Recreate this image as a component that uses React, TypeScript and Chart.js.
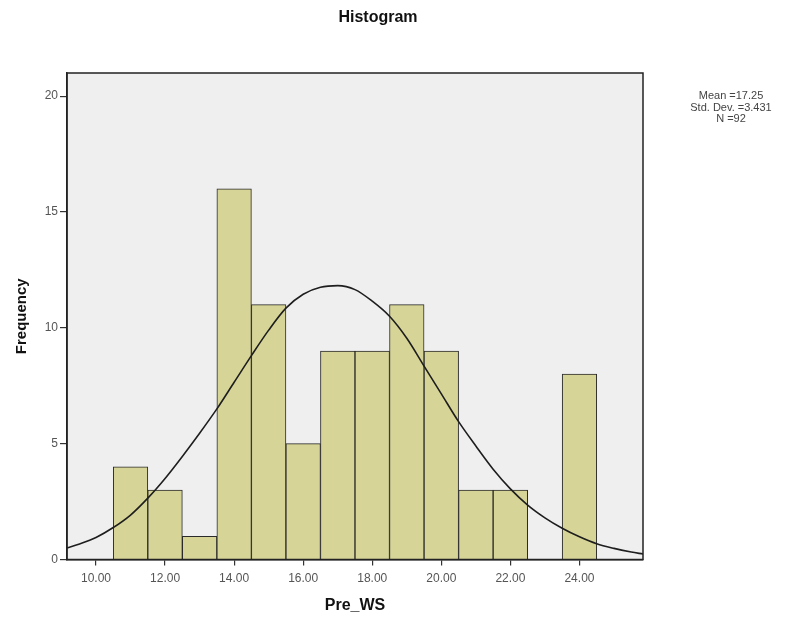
import React, { useEffect, useRef } from "react";
import { Chart, registerables } from "chart.js";

Chart.register(...registerables);

const chartTitle = "Histogram";
const xAxisTitle = "Pre_WS";
const yAxisTitle = "Frequency";
const statsLines = ["Mean =17.25", "Std. Dev. =3.431", "N =92"];

const binCenters = [11, 12, 13, 14, 15, 16, 17, 18, 19, 20, 21, 22, 24];
const frequencies = [4, 3, 1, 16, 11, 5, 9, 9, 11, 9, 3, 3, 8];

const curveX = [9.16, 9.5, 10, 10.5, 11, 11.5, 12, 12.5, 13, 13.5, 14, 14.5, 15, 15.5, 16, 16.5, 17, 17.5, 18, 18.5, 19, 19.5, 20, 20.5, 21, 21.5, 22, 22.5, 23, 23.5, 24, 24.5, 25, 25.5, 25.84];
const curveY = [0.5, 0.66, 0.95, 1.38, 1.92, 2.65, 3.5, 4.45, 5.45, 6.5, 7.65, 8.8, 9.9, 10.85, 11.45, 11.75, 11.82, 11.65, 11.15, 10.5, 9.55, 8.35, 7.15, 5.95, 4.9, 3.9, 3.05, 2.35, 1.8, 1.35, 0.98, 0.68, 0.48, 0.32, 0.24];

const xTicks = [10, 12, 14, 16, 18, 20, 22, 24];
const yTicks = [0, 5, 10, 15, 20];

const FONT = "'Liberation Sans', Arial, sans-serif";

const decorPlugin = {
  id: "decor",
  beforeDraw(chart: any) {
    const { ctx, chartArea } = chart;
    ctx.save();
    ctx.fillStyle = "#ffffff";
    ctx.fillRect(0, 0, chart.width, chart.height);
    ctx.fillStyle = "#efefef";
    ctx.fillRect(chartArea.left, chartArea.top, chartArea.right - chartArea.left, chartArea.bottom - chartArea.top);
    ctx.restore();
  },
  afterDraw(chart: any) {
    const { ctx, chartArea } = chart;
    ctx.save();
    ctx.strokeStyle = "#222222";
    ctx.lineWidth = 1.5;
    ctx.strokeRect(chartArea.left, chartArea.top, chartArea.right - chartArea.left, chartArea.bottom - chartArea.top);
    ctx.fillStyle = "#111111";
    ctx.font = `bold 16px ${FONT}`;
    ctx.textAlign = "center";
    ctx.textBaseline = "middle";
    ctx.fillText(chartTitle, 378, 18);
    ctx.fillStyle = "#444444";
    ctx.font = `11px ${FONT}`;
    statsLines.forEach((t, i) => ctx.fillText(t, 731, 96 + i * 11.5));
    ctx.restore();
  },
};

export default function App() {
  const ref = useRef<HTMLCanvasElement>(null);
  useEffect(() => {
    if (!ref.current) return;
    const chart = new Chart(ref.current, {
      type: "bar",
      data: {
        datasets: [
          {
            type: "line",
            data: curveX.map((x, i) => ({ x, y: curveY[i] })),
            borderColor: "#1e1e1e",
            borderWidth: 1.6,
            pointRadius: 0,
            cubicInterpolationMode: "monotone",
            fill: false,
            order: 0,
          } as any,
          {
            type: "bar",
            data: binCenters.map((x, i) => ({ x, y: frequencies[i] })),
            backgroundColor: "#d6d496",
            borderColor: "#2a2a2a",
            borderWidth: 1,
            barPercentage: 1,
            categoryPercentage: 1,
            order: 1,
          } as any,
        ],
      },
      options: {
        responsive: false,
        animation: false,
        layout: { padding: { top: 73, right: 164, bottom: 0, left: 0 } },
        plugins: { legend: { display: false }, tooltip: { enabled: false }, title: { display: false } },
        scales: {
          x: {
            type: "linear",
            min: 9.16,
            max: 25.84,
            offset: false,
            afterBuildTicks: (s: any) => { s.ticks = xTicks.map((v) => ({ value: v })); },
            afterFit: (s: any) => { s.height = 70.5; },
            grid: { display: true, offset: false, drawOnChartArea: false, drawTicks: true, tickLength: 6, color: "#333", lineWidth: 1.2 },
            border: { display: true, color: "#222", width: 1.5 },
            ticks: {
              color: "#555",
              font: { family: FONT, size: 12 },
              padding: 6,
              maxRotation: 0,
              callback: (v: any) => Number(v).toFixed(2),
            },
            title: { display: true, text: xAxisTitle, color: "#111", font: { family: FONT, size: 16, weight: "bold" }, padding: { top: 0, bottom: 15 } },
          },
          y: {
            type: "linear",
            min: 0,
            max: 21,
            afterBuildTicks: (s: any) => { s.ticks = yTicks.map((v) => ({ value: v })); },
            afterFit: (s: any) => { s.width = 67; },
            grid: { display: true, drawOnChartArea: false, drawTicks: true, tickLength: 7, color: "#333", lineWidth: 1.2 },
            border: { display: true, color: "#222", width: 1.5 },
            ticks: { color: "#555", font: { family: FONT, size: 12 }, padding: 2 },
            title: { display: true, text: yAxisTitle, color: "#111", font: { family: FONT, size: 15, weight: "bold" }, padding: { top: 13, bottom: 0 } },
          },
        },
      },
      plugins: [decorPlugin],
    });
    return () => chart.destroy();
  }, []);
  return (
    <div style={{ position: "absolute", left: 0, top: 0, width: 807, height: 630 }}>
      <canvas ref={ref} width={807} height={630} style={{ display: "block" }} />
    </div>
  );
}
